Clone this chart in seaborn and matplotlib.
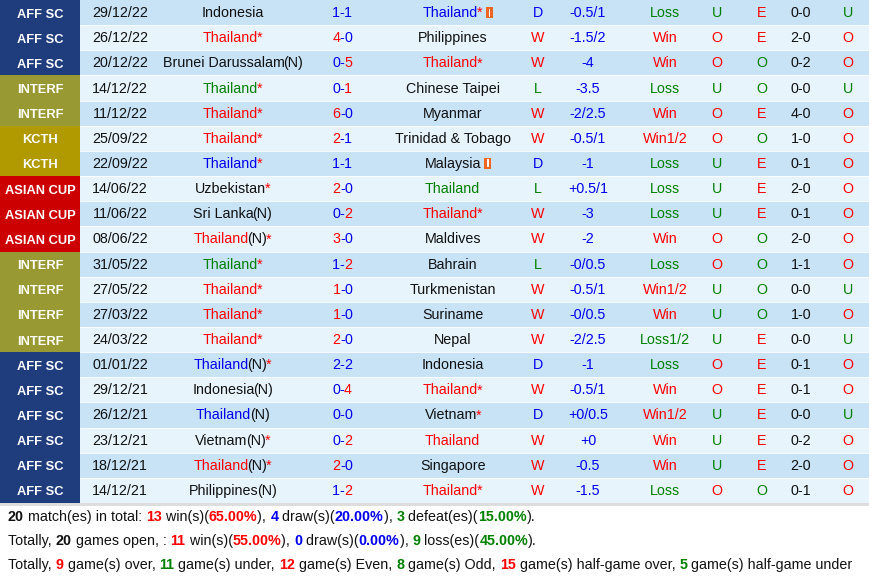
import matplotlib
matplotlib.use("Agg")
import matplotlib.pyplot as plt
import seaborn as sns

sns.set_style("white")
plt.rcParams["font.family"] = "Liberation Sans"

# table data
comps = ["AFF SC"] * 3 + ["INTERF"] * 2 + ["KCTH"] * 2 + ["ASIAN CUP"] * 3 + ["INTERF"] * 4 + ["AFF SC"] * 6
dates = ["29/12/22", "26/12/22", "20/12/22", "14/12/22", "11/12/22", "25/09/22", "22/09/22",
         "14/06/22", "11/06/22", "08/06/22", "31/05/22", "27/05/22", "27/03/22", "24/03/22",
         "01/01/22", "29/12/21", "26/12/21", "23/12/21", "18/12/21", "14/12/21"]
homes = ["Indonesia", "Thailand*", "Brunei Darussalam(N)", "Thailand*", "Thailand*", "Thailand*",
         "Thailand*", "Uzbekistan*", "Sri Lanka(N)", "Thailand(N)*", "Thailand*", "Thailand*",
         "Thailand*", "Thailand*", "Thailand(N)*", "Indonesia(N)", "Thailand(N)", "Vietnam(N)*",
         "Thailand(N)*", "Philippines(N)"]
scores = ["1-1", "4-0", "0-5", "0-1", "6-0", "2-1", "1-1", "2-0", "0-2", "3-0", "1-2", "1-0",
          "1-0", "2-0", "2-2", "0-4", "0-0", "0-2", "2-0", "1-2"]
aways = ["Thailand*", "Philippines", "Thailand*", "Chinese Taipei", "Myanmar", "Trinidad & Tobago",
         "Malaysia", "Thailand", "Thailand*", "Maldives", "Bahrain", "Turkmenistan", "Suriname",
         "Nepal", "Indonesia", "Thailand*", "Vietnam*", "Thailand", "Singapore", "Thailand*"]
flag_rows = [0, 6]
results = ["D", "W", "W", "L", "W", "W", "D", "L", "W", "W", "L", "W", "W", "W", "D", "W", "D", "W", "W", "W"]
handicaps = ["-0.5/1", "-1.5/2", "-4", "-3.5", "-2/2.5", "-0.5/1", "-1", "+0.5/1", "-3", "-2",
             "-0/0.5", "-0.5/1", "-0/0.5", "-2/2.5", "-1", "-0.5/1", "+0/0.5", "+0", "-0.5", "-1.5"]
hc_results = ["Loss", "Win", "Win", "Loss", "Win", "Win1/2", "Loss", "Loss", "Loss", "Win", "Loss",
              "Win1/2", "Win", "Loss1/2", "Loss", "Win", "Win1/2", "Win", "Win", "Loss"]
ou = ["U", "O", "O", "U", "O", "O", "U", "U", "U", "O", "O", "U", "U", "U", "O", "O", "U", "U", "U", "O"]
eo = ["E", "E", "O", "O", "E", "O", "E", "E", "E", "O", "O", "O", "O", "E", "E", "E", "E", "E", "E", "O"]
ht = ["0-0", "2-0", "0-2", "0-0", "4-0", "1-0", "0-1", "2-0", "0-1", "2-0", "1-1", "0-0", "1-0",
      "0-0", "0-1", "0-1", "0-0", "0-2", "2-0", "0-1"]
ht_ou = ["U", "O", "O", "U", "O", "O", "O", "O", "O", "O", "O", "U", "O", "U", "O", "O", "U", "O", "O", "O"]

comp_colors = {"AFF SC": "#1f3c7c", "INTERF": "#999933", "KCTH": "#b09a00", "ASIAN CUP": "#cc0000"}
RED, BLUE, GREEN, BLACK = "#ff0000", "#0000ee", "#008000", "#111111"
res_color = {"W": RED, "D": BLUE, "L": GREEN}

W, H = 870, 577
fig = plt.figure(figsize=(W / 100, H / 100), dpi=100)
ax = fig.add_axes([0, 0, 1, 1])
ax.set_xlim(0, W)
ax.set_ylim(H, 0)
ax.axis("off")
renderer = fig.canvas.get_renderer()
FS = 10.3


def text_width(s, fs, weight):
    # measure with a guard char so spaces count
    t = ax.text(0, 0, "|" + s + "|", fontsize=fs, weight=weight)
    g = ax.text(0, 0, "||", fontsize=fs, weight=weight)
    w = t.get_window_extent(renderer).width - g.get_window_extent(renderer).width
    t.remove()
    g.remove()
    return w


def rich(x, y, segs, ha="center", fs=FS, squeeze=1.0):
    # segs: (text, colour) or (text, colour, weight)
    segs = [s if len(s) == 3 else (s[0], s[1], "normal") for s in segs]
    widths = [text_width(s, fs, wt) - squeeze for s, c, wt in segs]
    cx = x - sum(widths) / 2 if ha == "center" else x
    for (s, c, wt), w in zip(segs, widths):
        ax.text(cx, y, s, color=c, fontsize=fs, va="center", ha="left", weight=wt)
        cx += w
    return cx


def team_segs(name, col):
    base = name.replace("(N)", "").replace("*", "")
    segs = [(base, col)]
    if "(N)" in name:
        segs.append(("(N)", BLACK))
    if name.endswith("*"):
        segs.append(("*", RED))
    return segs


RH = 25.15
n = len(dates)
for i in range(n):
    y0 = i * RH
    yc = y0 + RH / 2 + 0.5
    ax.add_patch(plt.Rectangle((80, y0), W - 80, RH, color="#c8e2f6" if i % 2 == 0 else "#e8f4fc", lw=0))
    ax.add_patch(plt.Rectangle((0, y0), 80, RH, color=comp_colors[comps[i]], lw=0))
    ax.text(40, yc + 1.5, comps[i], color="white", weight="bold", fontsize=9.3, ha="center", va="center")
    ax.text(120, yc, dates[i], color=BLACK, fontsize=FS, ha="center", va="center")
    rc = res_color[results[i]]
    hcol = rc if homes[i].startswith("Thailand") else BLACK
    acol = rc if aways[i].startswith("Thailand") else BLACK
    rich(232, yc, team_segs(homes[i], hcol), squeeze=1.5)
    end = rich(452, yc, team_segs(aways[i], acol), squeeze=1.5)
    if i in flag_rows:
        ax.add_patch(plt.Rectangle((end + 5, yc - 6), 7, 11, color="#ee6622", lw=0))
        ax.add_patch(plt.Rectangle((end + 7.8, yc - 4.5), 1.4, 8, color="white", lw=0))
    h, a = scores[i].split("-")
    hc = RED if int(h) > int(a) else BLUE
    ac = RED if int(a) > int(h) else BLUE
    rich(342, yc, [(h, hc), ("-", BLUE), (a, ac)], squeeze=0.5)
    ax.text(538, yc, results[i], color=rc, fontsize=FS, ha="center", va="center")
    ax.text(588, yc, handicaps[i], color=BLUE, fontsize=FS, ha="center", va="center")
    ax.text(665, yc, hc_results[i], color=RED if hc_results[i].startswith("Win") else GREEN,
            fontsize=FS, ha="center", va="center")
    ax.text(717, yc, ou[i], color=RED if ou[i] == "O" else GREEN, fontsize=FS, ha="center", va="center")
    ax.text(762, yc, eo[i], color=RED if eo[i] == "E" else GREEN, fontsize=FS, ha="center", va="center")
    ax.text(801, yc, ht[i], color=BLACK, fontsize=FS, ha="center", va="center")
    ax.text(848, yc, ht_ou[i], color=RED if ht_ou[i] == "O" else GREEN, fontsize=FS, ha="center", va="center")
    if i > 0:
        ax.plot([80, W], [y0, y0], color="white", lw=0.6)

ax.add_patch(plt.Rectangle((0, n * RH), W, 3, color="#dddddd", lw=0))

B = "bold"
fsum = 10.3
rich(8, 517, [("20", BLACK, B), (" match(es) in total: ", BLACK), ("13", RED, B), (" win(s)(", BLACK),
              ("65.00%", RED, B), ("), ", BLACK), ("4", BLUE, B), (" draw(s)(", BLACK), ("20.00%", BLUE, B),
              ("), ", BLACK), ("3", GREEN, B), (" defeat(es)(", BLACK), ("15.00%", GREEN, B), (").", BLACK)],
     ha="left", fs=fsum, squeeze=0)
rich(8, 541, [("Totally, ", BLACK), ("20", BLACK, B), (" games open, : ", BLACK), ("11", RED, B),
              (" win(s)(", BLACK), ("55.00%", RED, B), ("), ", BLACK), ("0", BLUE, B), (" draw(s)(", BLACK),
              ("0.00%", BLUE, B), ("), ", BLACK), ("9", GREEN, B), (" loss(es)(", BLACK), ("45.00%", GREEN, B),
              (").", BLACK)], ha="left", fs=fsum, squeeze=0)
rich(8, 565, [("Totally, ", BLACK), ("9", RED, B), (" game(s) over, ", BLACK), ("11", GREEN, B),
              (" game(s) under, ", BLACK), ("12", RED, B), (" game(s) Even, ", BLACK), ("8", GREEN, B),
              (" game(s) Odd, ", BLACK), ("15", RED, B), (" game(s) half-game over, ", BLACK), ("5", GREEN, B),
              (" game(s) half-game under", BLACK)], ha="left", fs=fsum, squeeze=0)

fig.savefig("out.png", dpi=100)
